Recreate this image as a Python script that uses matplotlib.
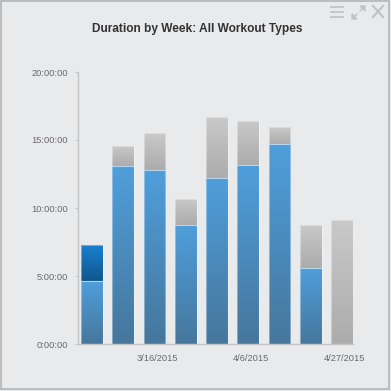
import matplotlib
matplotlib.use("Agg")
import matplotlib.pyplot as plt
import matplotlib.dates as mdates
import numpy as np
import pandas as pd
from matplotlib.colors import LinearSegmentedColormap
from matplotlib.patches import Rectangle
from matplotlib.lines import Line2D

plt.rcParams['font.family'] = ['Liberation Sans', 'DejaVu Sans']

title = "Duration by Week: All Workout Types"
weeks = ['2015-03-02', '2015-03-09', '2015-03-16', '2015-03-23', '2015-03-30',
         '2015-04-06', '2015-04-13', '2015-04-20', '2015-04-27']
primary_hours = [4.6, 13.06, 12.79, 8.76, 12.23, 13.14, 14.74, 5.6, 0.0]
other_hours = [2.65, 1.48, 2.69, 1.92, 4.43, 3.24, 1.22, 3.18, 9.13]
highlight_week = 0
x_tick_dates = ['2015-03-16', '2015-04-06', '2015-04-27']
x_tick_labels = ['3/16/2015', '4/6/2015', '4/27/2015']
y_ticks = [0, 5, 10, 15, 20]
y_tick_labels = ['0:00:00', '5:00:00', '10:00:00', '15:00:00', '20:00:00']

bg = '#e9eaec'
fig = plt.figure(figsize=(3.91, 3.91), dpi=100, facecolor=bg)
ax = fig.add_axes([78/391, 47/391, 275/391, 272/391], facecolor=bg)

x = mdates.date2num(pd.to_datetime(weeks))
width = 4.9

blue_top, blue_bot = '#4f9edb', '#46779d'
dark_top, dark_bot = '#1a80d2', '#0f578c'
gray_top, gray_bot = '#c9c9c9', '#acacac'

bars_p = ax.bar(x, primary_hours, width=width, color='none', edgecolor='none')
bars_o = ax.bar(x, other_hours, bottom=primary_hours, width=width, color='none', edgecolor='none')

def grad_fill(patch, ctop, cbot):
    bx, by = patch.get_xy()
    w, h = patch.get_width(), patch.get_height()
    if h <= 0:
        return
    cmap = LinearSegmentedColormap.from_list('g', [cbot, ctop])
    grad = np.linspace(0, 1, 64).reshape(-1, 1)
    im = ax.imshow(grad, extent=[bx, bx + w, by, by + h], origin='lower',
                   cmap=cmap, aspect='auto', zorder=2, interpolation='bilinear')
    im.set_clip_path(patch)
    ax.add_patch(Rectangle((bx, by), w, h, facecolor='none',
                           edgecolor=(1, 1, 1, 0.35), linewidth=0.8, zorder=3))

for i, p in enumerate(bars_p):
    grad_fill(p, blue_top, blue_bot)
for i, p in enumerate(bars_o):
    if i == highlight_week:
        grad_fill(p, dark_top, dark_bot)
    else:
        grad_fill(p, gray_top, gray_bot)

ax.set_xlim(x[0] - 3.14, x[-1] + 2.46)
ax.set_ylim(0, 20)

ax.set_yticks(y_ticks)
ax.set_yticklabels(y_tick_labels)
tick_x = mdates.date2num(pd.to_datetime(x_tick_dates)) + 0.55
ax.set_xticks(tick_x)
ax.set_xticklabels(x_tick_labels)

for s in ['top', 'right']:
    ax.spines[s].set_visible(False)
for s in ['left', 'bottom']:
    ax.spines[s].set_color('#c4c4c4')
    ax.spines[s].set_linewidth(1.0)
ax.tick_params(axis='y', length=2, width=0.8, color='#c4c4c4', labelsize=6.7,
               labelcolor='#6a6a6a', pad=5)
ax.tick_params(axis='x', length=0, labelsize=6.7, labelcolor='#6a6a6a', pad=7)

fig.text(197/391, 1 - 29/391, title, ha='center', va='center',
         fontsize=8.6, fontweight='bold', color='#333333')

# frame
fig.add_artist(Rectangle((0.003, 0.004), 0.992, 0.994, transform=fig.transFigure,
                         facecolor='none', edgecolor='#b5b5b5', linewidth=1.2))

# header icons
ic = '#c3c3c3'
def fl(x0, y0, x1, y1, lw=1.6):
    fig.add_artist(Line2D([x0/391, x1/391], [1 - y0/391, 1 - y1/391],
                          transform=fig.transFigure, color=ic, linewidth=lw))
for yy in [7, 12, 17]:
    fl(331, yy, 343, yy, lw=1.3)
fl(354, 17, 357, 14, lw=1.0)
fl(360, 11, 363, 8, lw=1.0)
fig.add_artist(plt.Polygon([[352/391, 1-19/391], [357/391, 1-19/391], [352/391, 1-14/391]],
                           transform=fig.transFigure, color=ic))
fig.add_artist(plt.Polygon([[365/391, 1-6/391], [360/391, 1-6/391], [365/391, 1-11/391]],
                           transform=fig.transFigure, color=ic))
fl(373, 6, 383, 17, lw=1.6)
fl(373, 17, 383, 6, lw=1.6)

fig.savefig('out.png', dpi=100, facecolor=bg)
